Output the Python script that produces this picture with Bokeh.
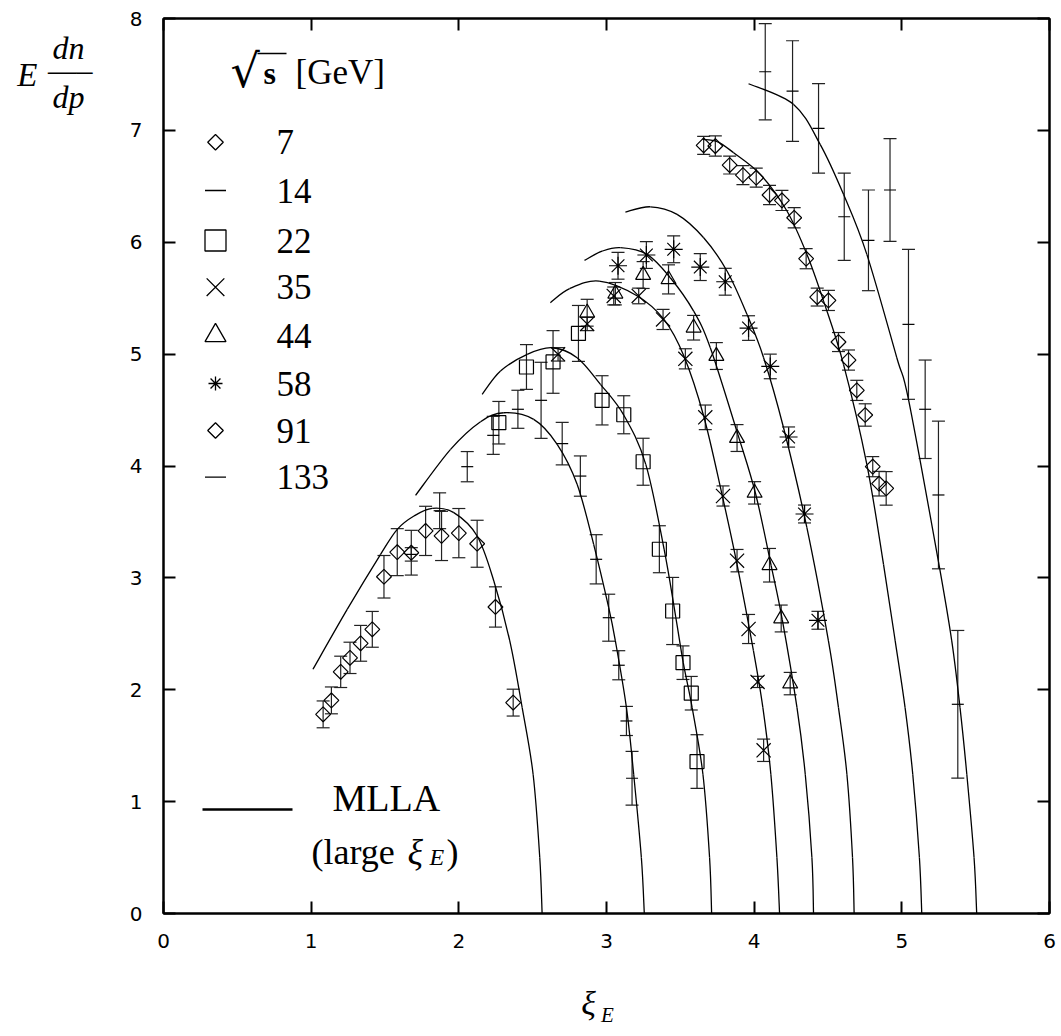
import numpy as np
from bokeh.plotting import figure
from bokeh.models import (Range1d, LinearAxis, FixedTicker, Whisker, ColumnDataSource,
                          Label, TeeHead, CustomJSTickFormatter)
from bokeh.embed import file_html
from bokeh.resources import INLINE

# ---------------- data ----------------
energies = ["7", "14", "22", "35", "44", "58", "91", "133"]

xi_7 = [1.081, 1.137, 1.200, 1.263, 1.335, 1.414, 1.493, 1.583, 1.678, 1.775, 1.883, 2.000, 2.124, 2.248, 2.368]
y_7 = [1.78, 1.905, 2.16, 2.285, 2.415, 2.54, 3.01, 3.23, 3.225, 3.42, 3.375, 3.40, 3.305, 2.74, 1.885]
e_7 = [0.12, 0.12, 0.14, 0.14, 0.16, 0.16, 0.19, 0.21, 0.20, 0.22, 0.22, 0.22, 0.21, 0.18, 0.12]

xi_14 = [1.678, 1.870, 2.057, 2.233, 2.400, 2.557, 2.700, 2.823, 2.930, 3.015, 3.083, 3.135, 3.173]
y_14 = [3.21, 3.60, 3.994, 4.274, 4.507, 4.587, 4.20, 3.91, 3.166, 2.644, 2.219, 1.721, 1.209]
e_14 = [0.06, 0.16, 0.135, 0.17, 0.17, 0.34, 0.19, 0.18, 0.22, 0.21, 0.13, 0.13, 0.24]

xi_22 = [2.271, 2.458, 2.638, 2.810, 2.970, 3.117, 3.248, 3.358, 3.448, 3.518, 3.574, 3.613]
y_22 = [4.387, 4.885, 4.93, 5.185, 4.587, 4.458, 4.038, 3.256, 2.704, 2.242, 1.969, 1.358]
e_22 = [0.19, 0.20, 0.28, 0.25, 0.22, 0.17, 0.21, 0.21, 0.30, 0.15, 0.15, 0.24]

xi_35 = [2.672, 2.869, 3.049, 3.218, 3.383, 3.534, 3.669, 3.789, 3.884, 3.962, 4.023, 4.064]
y_35 = [4.998, 5.27, 5.52, 5.52, 5.31, 4.958, 4.435, 3.732, 3.154, 2.543, 2.07, 1.459]
e_35 = [0.06, 0.06, 0.08, 0.07, 0.09, 0.09, 0.11, 0.09, 0.10, 0.13, 0.05, 0.10]

xi_44 = [2.869, 3.060, 3.248, 3.420, 3.590, 3.744, 3.884, 4.003, 4.104, 4.183, 4.244]
y_44 = [5.37, 5.54, 5.707, 5.668, 5.236, 4.983, 4.25, 3.76, 3.113, 2.637, 2.055]
e_44 = [0.12, 0.10, 0.12, 0.13, 0.11, 0.12, 0.12, 0.10, 0.15, 0.12, 0.10]

xi_58 = [3.078, 3.270, 3.455, 3.635, 3.804, 3.962, 4.109, 4.233, 4.341, 4.432]
y_58 = [5.79, 5.886, 5.937, 5.778, 5.647, 5.233, 4.89, 4.259, 3.571, 2.621]
e_58 = [0.12, 0.12, 0.12, 0.12, 0.12, 0.11, 0.11, 0.09, 0.08, 0.08]

xi_91 = [3.658, 3.737, 3.834, 3.924, 4.014, 4.104, 4.188, 4.271, 4.352, 4.427, 4.503,
         4.571, 4.639, 4.695, 4.752, 4.803, 4.846, 4.894]
y_91 = [6.866, 6.86, 6.69, 6.60, 6.577, 6.422, 6.374, 6.219, 5.853, 5.51, 5.48,
        5.108, 4.947, 4.676, 4.456, 3.994, 3.842, 3.80]
e_91 = [0.08, 0.09, 0.08, 0.085, 0.085, 0.086, 0.09, 0.09, 0.09, 0.08, 0.09,
        0.085, 0.09, 0.09, 0.10, 0.09, 0.11, 0.15]

xi_133 = [4.075, 4.260, 4.436, 4.610, 4.774, 4.920, 5.045, 5.158, 5.248, 5.379]
y_133 = [7.524, 7.351, 7.018, 6.228, 6.017, 6.467, 5.266, 4.507, 3.741, 1.87]
e_133 = [0.43, 0.45, 0.40, 0.39, 0.45, 0.46, 0.67, 0.44, 0.66, 0.66]

# MLLA (large xi_E) curves
mlla_x_7 = [1.012, 1.245, 1.470, 1.583, 1.696, 1.820, 1.966, 2.124, 2.237, 2.345, 2.429, 2.503, 2.548, 2.564]
mlla_y_7 = [2.183, 2.72, 3.21, 3.434, 3.553, 3.622, 3.583, 3.374, 2.972, 2.437, 1.84, 1.245, 0.5, 0.0]

mlla_x_14 = [1.707, 1.944, 2.147, 2.304, 2.507, 2.666, 2.801, 2.913, 3.015, 3.060, 3.135, 3.184, 3.236, 3.256]
mlla_y_14 = [3.738, 4.149, 4.396, 4.476, 4.417, 4.194, 3.837, 3.30, 2.734, 2.437, 1.84, 1.245, 0.5, 0.0]

mlla_x_22 = [2.158, 2.282, 2.463, 2.632, 2.801, 2.959, 3.117, 3.266, 3.390, 3.469, 3.520, 3.580, 3.653, 3.698, 3.712]
mlla_y_22 = [4.64, 4.849, 4.998, 5.057, 4.968, 4.73, 4.455, 4.015, 3.256, 2.65, 2.24, 1.84, 1.245, 0.5, 0.0]

mlla_x_35 = [2.620, 2.750, 2.950, 3.209, 3.389, 3.524, 3.658, 3.782, 3.884, 3.995, 4.059, 4.113, 4.154, 4.172]
mlla_y_35 = [5.46, 5.585, 5.653, 5.52, 5.31, 4.983, 4.447, 3.747, 3.121, 2.35, 1.84, 1.245, 0.5, 0.0]

mlla_x_44 = [2.851, 2.970, 3.094, 3.275, 3.432, 3.590, 3.703, 3.890, 4.010, 4.115, 4.190, 4.290, 4.346, 4.391, 4.402]
mlla_y_44 = [5.838, 5.92, 5.952, 5.892, 5.683, 5.385, 5.057, 4.28, 3.75, 3.11, 2.63, 1.84, 1.245, 0.5, 0.0]

mlla_x_58 = [3.128, 3.297, 3.478, 3.658, 3.816, 3.951, 4.064, 4.199, 4.357, 4.503, 4.571, 4.628, 4.666, 4.677]
mlla_y_58 = [6.27, 6.317, 6.249, 6.04, 5.743, 5.356, 4.968, 4.342, 3.449, 2.437, 1.84, 1.245, 0.5, 0.0]

mlla_x_91 = [3.650, 3.750, 3.861, 4.041, 4.222, 4.357, 4.470, 4.605, 4.763, 4.876, 4.955, 5.022, 5.074, 5.119, 5.135]
mlla_y_91 = [6.92, 6.90, 6.80, 6.607, 6.279, 5.892, 5.474, 4.909, 4.015, 3.121, 2.437, 1.84, 1.245, 0.5, 0.0]

mlla_x_133 = [3.962, 4.267, 4.447, 4.605, 4.763, 4.966, 5.045, 5.248, 5.338, 5.394, 5.440, 5.489, 5.507]
mlla_y_133 = [7.417, 7.232, 6.875, 6.428, 5.892, 4.968, 4.596, 3.145, 2.437, 1.84, 1.245, 0.5, 0.0]

x_ticks = [0, 1, 2, 3, 4, 5, 6]
y_ticks = [0, 1, 2, 3, 4, 5, 6, 7, 8]

# ---------------- figure ----------------
W, H = 1061, 1036
L, R, T, B = 163, 12, 18, 123
FW, FH = W - L - R, H - T - B
XMIN, XMAX, YMIN, YMAX = 0.0, 6.0, 0.0, 8.0


def dx(px):
    return XMIN + (px - L) / FW * (XMAX - XMIN)


def dy(py):
    return YMIN + (T + FH - py) / FH * (YMAX - YMIN)


p = figure(width=W, height=H, output_backend="svg", toolbar_location=None,
           x_range=Range1d(XMIN, XMAX), y_range=Range1d(YMIN, YMAX),
           min_border_left=L, min_border_right=R, min_border_top=T, min_border_bottom=B,
           x_axis_location=None, y_axis_location=None)
p.grid.visible = False
p.outline_line_color = "black"
p.outline_line_width = 2
p.background_fill_color = "white"
p.border_fill_color = "white"

TICK_FONT = "DejaVu Sans"
SERIF = "Liberation Serif"


def make_axis(ticks, show_labels, standoff):
    ax = LinearAxis(ticker=FixedTicker(ticks=ticks))
    ax.major_tick_in = 12
    ax.major_tick_out = 0
    ax.minor_tick_in = 0
    ax.minor_tick_out = 0
    ax.major_tick_line_width = 2
    ax.major_tick_line_color = "black"
    ax.axis_line_width = 2
    ax.axis_line_color = "black"
    if show_labels:
        ax.major_label_text_font = TICK_FONT
        ax.major_label_text_font_size = "20px"
        ax.major_label_text_color = "black"
        ax.major_label_standoff = standoff
    else:
        ax.formatter = CustomJSTickFormatter(code="return ''")
        ax.major_label_text_font_size = "1px"
        ax.major_label_standoff = 0
    return ax


def title_axis(tick_vals, texts, size, standoff, style="italic"):
    """A bare axis (no line, no ticks) used only to place title text outside the frame."""
    ax = LinearAxis(ticker=FixedTicker(ticks=tick_vals))
    ax.formatter = CustomJSTickFormatter(
        args=dict(vals=tick_vals, texts=texts),
        code="""
        let best = 0, bd = Infinity;
        for (let i = 0; i < vals.length; i++) {
            const d = Math.abs(vals[i] - tick);
            if (d < bd) { bd = d; best = i; }
        }
        return texts[best];
        """)
    ax.axis_line_color = None
    ax.major_tick_line_color = None
    ax.minor_tick_line_color = None
    ax.major_tick_in = 0
    ax.major_tick_out = 0
    ax.minor_tick_in = 0
    ax.minor_tick_out = 0
    ax.major_label_text_font = SERIF
    ax.major_label_text_font_style = style
    ax.major_label_text_font_size = f"{size}px"
    ax.major_label_text_color = "black"
    ax.major_label_standoff = standoff
    return ax


p.add_layout(make_axis(x_ticks, True, 20), "below")
p.add_layout(make_axis(y_ticks, True, 21), "left")
p.add_layout(make_axis(x_ticks, False, 0), "above")
p.add_layout(make_axis(y_ticks, False, 0), "right")

# y title  E dn/dp  (extra bare left axes, stacked outward)
p.add_layout(title_axis([dy(47.5), dy(69), dy(96.5)], ["dn\u00a0", "—–", "dp\u00a0"], 32, 34), "left")
p.add_layout(title_axis([dy(74)], ["E"], 33, 8), "left")

# x title  xi_E  (extra bare bottom axes; the subscript one is pulled up beside xi)
p.add_layout(title_axis([dx(588)], ["ξ"], 34, 34), "below")
p.add_layout(title_axis([dx(607)], ["E"], 21, -22), "below")


# ---------------- curves (smooth path through the read points) ----------------
def smooth_path(xs, ys):
    pts = list(zip(xs, ys))
    n = len(pts)
    out = dict(x0=[], y0=[], x1=[], y1=[], cx0=[], cy0=[], cx1=[], cy1=[])
    for i in range(n - 1):
        q0 = pts[i - 1] if i > 0 else pts[i]
        q1 = pts[i]
        q2 = pts[i + 1]
        q3 = pts[i + 2] if i + 2 < n else pts[i + 1]
        out["x0"].append(q1[0]); out["y0"].append(q1[1])
        out["x1"].append(q2[0]); out["y1"].append(q2[1])
        out["cx0"].append(q1[0] + (q2[0] - q0[0]) / 6.0)
        out["cy0"].append(q1[1] + (q2[1] - q0[1]) / 6.0)
        out["cx1"].append(q2[0] - (q3[0] - q1[0]) / 6.0)
        out["cy1"].append(q2[1] - (q3[1] - q1[1]) / 6.0)
    return out


curves = [(mlla_x_7, mlla_y_7), (mlla_x_14, mlla_y_14), (mlla_x_22, mlla_y_22),
          (mlla_x_35, mlla_y_35), (mlla_x_44, mlla_y_44), (mlla_x_58, mlla_y_58),
          (mlla_x_91, mlla_y_91), (mlla_x_133, mlla_y_133)]
for cx, cy in curves:
    p.bezier(source=ColumnDataSource(smooth_path(cx, cy)),
             x0="x0", y0="y0", x1="x1", y1="y1", cx0="cx0", cy0="cy0", cx1="cx1", cy1="cy1",
             line_color="black", line_width=1.3)

# ---------------- data with error bars ----------------
DIAMOND = dict(marker="square", angle=np.pi / 4, size=10.5)
series = [
    (xi_7, y_7, e_7, DIAMOND),
    (xi_14, y_14, e_14, dict(marker="dash", size=12)),
    (xi_22, y_22, e_22, dict(marker="square", size=14)),
    (xi_35, y_35, e_35, dict(marker="x", size=20)),
    (xi_44, y_44, e_44, dict(marker="triangle", size=15)),
    (xi_58, y_58, e_58, dict(marker="asterisk", size=18)),
    (xi_91, y_91, e_91, DIAMOND),
    (xi_133, y_133, e_133, dict(marker="dash", size=12)),
]

ERR_COLOR = "#222222"
for xs, ys, es, mk in series:
    src = ColumnDataSource(dict(x=xs, y=ys,
                                lo=[a - b for a, b in zip(ys, es)],
                                hi=[a + b for a, b in zip(ys, es)]))
    w = Whisker(source=src, base="x", upper="hi", lower="lo", dimension="height",
                line_color=ERR_COLOR, line_width=1.2,
                upper_head=TeeHead(size=13, line_color=ERR_COLOR, line_width=1.2),
                lower_head=TeeHead(size=13, line_color=ERR_COLOR, line_width=1.2))
    p.add_layout(w)
    p.scatter("x", "y", source=src, fill_alpha=0.0,
              line_color="black", line_width=1.2, **mk)


# ---------------- legend (manual, inside the frame) ----------------
def label(x, y, text, size, align="left", style="normal", font=SERIF):
    p.add_layout(Label(x=dx(x), y=dy(y), text=text, text_font=font, text_font_size=f"{size}px",
                       text_align=align, text_baseline="middle", text_font_style=style,
                       text_color="black"))


# title  sqrt(s) [GeV]
label(230, 70, "√", 46, font="DejaVu Serif")
p.segment(x0=[dx(257)], y0=[dy(53)], x1=[dx(286)], y1=[dy(53)], line_color="black", line_width=1.6)
label(263, 72, "s", 32, style="bold")
label(295, 72, "[GeV]", 35)

leg_rows_py = [141.7, 190, 240, 286.7, 335, 383, 430, 476.7]
leg_marks = [dict(marker="square", angle=np.pi / 4, size=11),
             dict(marker="dash", size=21),
             dict(marker="square", size=21),
             dict(marker="x", size=25),
             dict(marker="triangle", size=21),
             dict(marker="asterisk", size=14),
             dict(marker="square", angle=np.pi / 4, size=11),
             dict(marker="dash", size=21)]
for lab, py, mk in zip(energies, leg_rows_py, leg_marks):
    p.scatter([dx(215)], [dy(py)], fill_alpha=0.0, line_color="black", line_width=1.3, **mk)
    label(276, py, lab, 35)

# MLLA legend entry
p.segment(x0=[dx(202)], y0=[dy(809)], x1=[dx(292)], y1=[dy(809)], line_color="black", line_width=2.5)
label(332, 797, "MLLA", 38)
label(311, 851, "(large", 36)
label(407, 851, "ξ", 36, style="italic")
label(429, 856, "E", 24, style="italic")
label(446, 851, ")", 36)

open("out.html", "w").write(file_html(p, INLINE))
